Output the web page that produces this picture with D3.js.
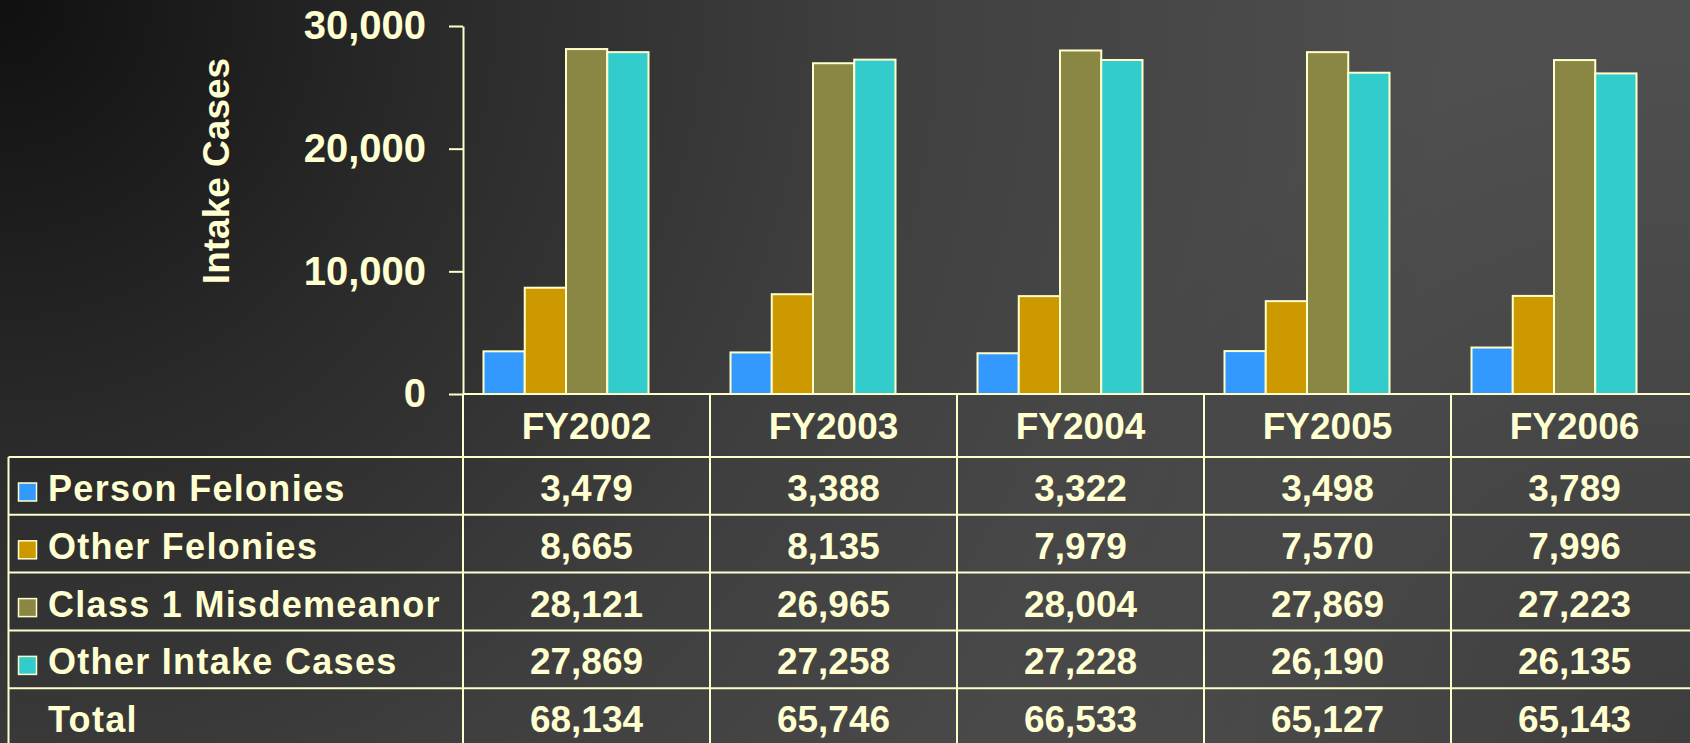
<!DOCTYPE html>
<html>
<head>
<meta charset="utf-8">
<script src="https://cdn.jsdelivr.net/npm/d3@7"></script>
<style>
  html, body { margin: 0; padding: 0; background: #333; overflow: hidden; }
  svg { display: block; }
  text { font-family: "Liberation Sans", Arial, Helvetica, sans-serif; font-weight: bold; }
</style>
</head>
<body>
<svg id="chart" width="1690" height="743"></svg>
<script>
// ---- data ----
const categories = ["FY2002", "FY2003", "FY2004", "FY2005", "FY2006"];
const seriesNames = ["Person Felonies", "Other Felonies", "Class 1 Misdemeanor", "Other Intake Cases"];
const personFelonies    = [3479, 3388, 3322, 3498, 3789];
const otherFelonies     = [8665, 8135, 7979, 7570, 7996];
const class1Misdemeanor = [28121, 26965, 28004, 27869, 27223];
const otherIntakeCases  = [27869, 27258, 27228, 26190, 26135];
const totals            = [68134, 65746, 66533, 65127, 65143];
const totalLabel = "Total";
const yTicks = [0, 10000, 20000, 30000];
const yLabel = "Intake Cases";

const seriesValues = [personFelonies, otherFelonies, class1Misdemeanor, otherIntakeCases];
const seriesColors = ["#3399FF", "#CC9900", "#8A8745", "#33CCCC"];

// ---- styles ----
const ink = "#FFFFD2";
const lineCol = "#FFFFCC";
const W = 1690, H = 743;

const svg = d3.select("#chart");

// background
const defs = svg.append("defs");
const bg = defs.append("radialGradient").attr("id", "bg")
  .attr("gradientUnits", "userSpaceOnUse")
  .attr("cx", 0).attr("cy", 0).attr("r", 1450);
bg.append("stop").attr("offset", 0).attr("stop-color", "#101010");
bg.append("stop").attr("offset", 0.3).attr("stop-color", "#2a2a2a");
bg.append("stop").attr("offset", 0.6).attr("stop-color", "#3f3f3f");
bg.append("stop").attr("offset", 1).attr("stop-color", "#4f4f4f");
const shade = defs.append("radialGradient").attr("id", "shade")
  .attr("gradientUnits", "userSpaceOnUse")
  .attr("cx", W).attr("cy", H).attr("r", 700);
shade.append("stop").attr("offset", 0).attr("stop-color", "#000").attr("stop-opacity", 0.22);
shade.append("stop").attr("offset", 1).attr("stop-color", "#000").attr("stop-opacity", 0);
svg.append("rect").attr("width", W).attr("height", H).attr("fill", "url(#bg)");
svg.append("rect").attr("width", W).attr("height", H).attr("fill", "url(#shade)");

// ---- scales ----
const colW = 247;
const x = d3.scaleBand().domain(categories).range([463, 463 + colW * categories.length]);
const xs = d3.scaleBand().domain(seriesNames).range([20.5, 185.5]);
const y = d3.scaleLinear().domain([0, 30000]).range([394, 26]);

const tableTop = 457;
const rowNames = seriesNames.concat([totalLabel]);
const rows = d3.scaleBand().domain(rowNames).range([tableTop, tableTop + 57.8 * rowNames.length]);

// ---- bars ----
const groups = svg.append("g").selectAll("g")
  .data(categories).join("g")
  .attr("transform", d => `translate(${x(d)},0)`);
groups.selectAll("rect")
  .data((c, ci) => seriesNames.map((s, si) => ({ s, si, v: seriesValues[si][ci] })))
  .join("rect")
  .attr("x", d => xs(d.s))
  .attr("width", xs.bandwidth())
  .attr("y", d => y(d.v))
  .attr("height", d => y(0) - y(d.v))
  .attr("fill", d => seriesColors[d.si])
  .attr("stroke", lineCol)
  .attr("stroke-width", 2);

// ---- y axis ----
const yAxis = svg.append("g")
  .attr("transform", `translate(${x.range()[0]},0)`)
  .call(d3.axisLeft(y).tickValues(yTicks).tickFormat(d3.format(",")).tickSize(14).tickSizeOuter(0).tickPadding(23));
yAxis.select(".domain").attr("stroke", lineCol).attr("stroke-width", 2);
yAxis.selectAll(".tick line").attr("stroke", lineCol).attr("stroke-width", 2);
yAxis.selectAll(".tick text")
  .attr("fill", ink).attr("font-size", 40)
  .attr("font-family", "'Liberation Sans', Arial, sans-serif").attr("font-weight", "bold");

// y label
svg.append("text")
  .attr("transform", `translate(229,171) rotate(-90)`)
  .attr("text-anchor", "middle")
  .attr("fill", ink).attr("font-size", 37)
  .text(yLabel);

// ---- category axis line + table ----
const grid = svg.append("g").attr("stroke", lineCol).attr("stroke-width", 2).attr("fill", "none");
grid.append("line").attr("x1", x.range()[0]).attr("x2", W + 10).attr("y1", y(0)).attr("y2", y(0));
grid.selectAll(".col").data(categories.concat(["_end"])).join("line")
  .attr("x1", (d, i) => x.range()[0] + i * x.bandwidth())
  .attr("x2", (d, i) => x.range()[0] + i * x.bandwidth())
  .attr("y1", y(0)).attr("y2", H + 10);
grid.selectAll(".row").data(rowNames).join("line")
  .attr("x1", 8.5).attr("x2", W + 10)
  .attr("y1", d => rows(d)).attr("y2", d => rows(d));
grid.append("line").attr("x1", 8.5).attr("x2", 8.5).attr("y1", tableTop).attr("y2", H + 10);

// header labels
svg.append("g").selectAll("text").data(categories).join("text")
  .attr("x", d => x(d) + x.bandwidth() / 2)
  .attr("y", 439)
  .attr("text-anchor", "middle")
  .attr("fill", ink).attr("font-size", 37)
  .text(d => d);

// row labels & legend keys
const rowG = svg.append("g").selectAll("g").data(rowNames).join("g")
  .attr("transform", d => `translate(0,${rows(d)})`);
rowG.append("text")
  .attr("x", 48).attr("y", 44)
  .attr("fill", ink).attr("font-size", 36)
  .attr("letter-spacing", 1.3)
  .text(d => d);
rowG.filter((d, i) => i < seriesNames.length).append("rect")
  .attr("x", 18.5).attr("y", 26).attr("width", 18).attr("height", 18)
  .attr("fill", (d, i) => seriesColors[i])
  .attr("stroke", lineCol).attr("stroke-width", 1.5);

// values
const fmt = d3.format(",");
const tableValues = seriesValues.concat([totals]);
rowG.each(function (r, ri) {
  d3.select(this).selectAll(".val").data(categories).join("text")
    .attr("class", "val")
    .attr("x", d => x(d) + x.bandwidth() / 2)
    .attr("y", 44)
    .attr("text-anchor", "middle")
    .attr("fill", ink).attr("font-size", 37)
    .text((d, ci) => fmt(tableValues[ri][ci]));
});
</script>
</body>
</html>
